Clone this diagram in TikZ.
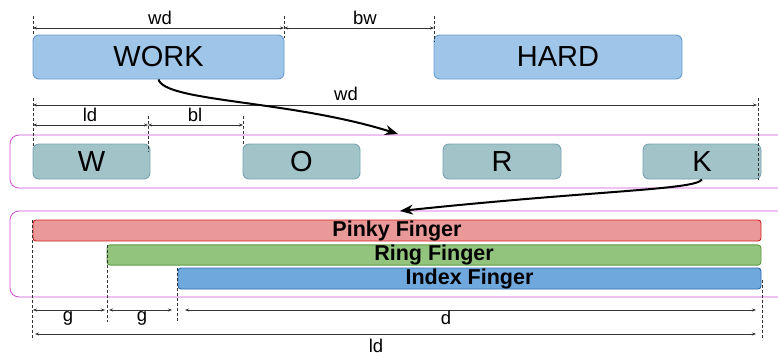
\documentclass[tikz,border=0pt]{standalone}
\usepackage{fontspec}
\setmainfont{Liberation Sans}
\usetikzlibrary{arrows.meta}
\definecolor{wfill}{HTML}{9FC5E8}
\definecolor{wdraw}{HTML}{6A9BD0}
\definecolor{lfill}{HTML}{A2C4C9}
\definecolor{ldraw}{HTML}{76A5AF}
\definecolor{pfill}{HTML}{EA9999}
\definecolor{pdraw}{HTML}{D42020}
\definecolor{rfill}{HTML}{93C47D}
\definecolor{rdraw}{HTML}{5E9C45}
\definecolor{ifill}{HTML}{6FA8DC}
\definecolor{idraw}{HTML}{2E6DB4}
\definecolor{cont}{HTML}{D24FD8}
\definecolor{dimc}{HTML}{333333}
\tikzset{
  wordbox/.style={draw=wdraw, fill=wfill, line width=0.9pt, rounded corners=6pt, inner sep=0pt,
    minimum height=44pt, font=\fontsize{29}{30}\selectfont},
  letterbox/.style={draw=ldraw, fill=lfill, line width=0.9pt, rounded corners=6pt, inner sep=0pt,
    minimum height=35pt, font=\fontsize{29}{30}\selectfont},
  barbox/.style={line width=0.9pt, rounded corners=3pt, inner sep=0pt,
    font=\bfseries\fontsize{21.5}{22}\selectfont},
  container/.style={draw=cont, line width=0.8pt, rounded corners=9pt},
  dimline/.style={draw=dimc, line width=0.6pt, {Stealth[length=4pt,width=3pt]}-{Stealth[length=4pt,width=3pt]}},
  tick/.style={draw=dimc, line width=0.6pt, dash pattern=on 3pt off 2pt},
  dimlabel/.style={font=\fontsize{18.5}{19}\selectfont, inner sep=0pt},
  bigarrow/.style={draw=black, line width=2pt, -{Stealth[length=13pt,width=10pt]}}
}
\begin{document}
\begin{tikzpicture}[x=1pt,y=-1pt]
\useasboundingbox (0,0) rectangle (778,356);
\begin{scope}
\clip (0,0) rectangle (778,356);
\draw[container] (10,135) rectangle (800,188);
\draw[container] (10,211) rectangle (800,297);
\end{scope}

% word boxes
\node[wordbox, minimum width=251pt] (work) at (158.5,57) {WORK};
\node[wordbox, minimum width=248pt] (hard) at (558,57) {HARD};

% letter boxes
\node[letterbox, minimum width=117pt] (W) at (91.5,161.5) {W};
\node[letterbox, minimum width=117pt] (O) at (301.5,161.5) {O};
\node[letterbox, minimum width=118pt] (R) at (502,161.5) {R};
\node[letterbox, minimum width=118pt] (K) at (702,161.5) {K};

% finger bars
\node[barbox, draw=pdraw, fill=pfill, minimum width=728pt, minimum height=21pt] (pinky) at (397,230.5) {Pinky Finger};
\node[barbox, draw=rdraw, fill=rfill, minimum width=654pt, minimum height=20pt] (ring) at (434,255) {Ring Finger};
\node[barbox, draw=idraw, fill=ifill, minimum width=583pt, minimum height=21pt] (index) at (469.5,278.5) {Index Finger};

% ticks
\coordinate (t1a) at (33,16);  \coordinate (t1b) at (33,36);
\coordinate (t2a) at (284,16); \coordinate (t2b) at (284,38);
\coordinate (t3a) at (434,16); \coordinate (t3b) at (434,42);
\coordinate (t4a) at (33,98);  \coordinate (t4b) at (33,146);
\coordinate (t5a) at (758,98); \coordinate (t5b) at (758,180);
\coordinate (t6a) at (148,116); \coordinate (t6b) at (148,152);
\coordinate (t7a) at (243,116); \coordinate (t7b) at (243,146);
\coordinate (t8a) at (32,220); \coordinate (t8b) at (32,340);
\coordinate (t9a) at (107,245); \coordinate (t9b) at (107,322);
\coordinate (t10a) at (177,268); \coordinate (t10b) at (177,323);
\coordinate (t11a) at (762,280); \coordinate (t11b) at (762,340);
\foreach \i in {1,...,11} \draw[tick] (t\i a) -- (t\i b);

% dimension lines
\coordinate (d1a) at (33,28);  \coordinate (d1b) at (284,28);
\coordinate (d2a) at (284,28); \coordinate (d2b) at (434,28);
\coordinate (d3a) at (33,105); \coordinate (d3b) at (757,105);
\coordinate (d4a) at (33,125); \coordinate (d4b) at (148,125);
\coordinate (d5a) at (148,125); \coordinate (d5b) at (243,125);
\coordinate (d6a) at (33,310); \coordinate (d6b) at (105,310);
\coordinate (d7a) at (109,310); \coordinate (d7b) at (172,310);
\coordinate (d8a) at (185,310); \coordinate (d8b) at (756,310);
\coordinate (d9a) at (35,334); \coordinate (d9b) at (756,334);
\foreach \i in {1,...,9} \draw[dimline] (d\i a) -- (d\i b);

\node[dimlabel] (lwd1) at (160,18) {wd};
\node[dimlabel] (lbw) at (365,18) {bw};
\node[dimlabel] (lwd2) at (346,94) {wd};
\node[dimlabel] (lld1) at (90,115) {ld};
\node[dimlabel] (lbl) at (195,115) {bl};
\node[dimlabel] (lg1) at (68,318) {g};
\node[dimlabel] (lg2) at (142,318) {g};
\node[dimlabel] (ld) at (446,318) {d};
\node[dimlabel] (lld2) at (376,346) {ld};

% big arrows
\coordinate (a1end) at (398,134);
\coordinate (a2end) at (400,211);
\draw[bigarrow] (work.south) .. controls (165,102) and (290,100) .. (a1end);
\draw[bigarrow] (K.south) .. controls (695,190) and (600,190) .. (a2end);
\end{tikzpicture}
\end{document}
